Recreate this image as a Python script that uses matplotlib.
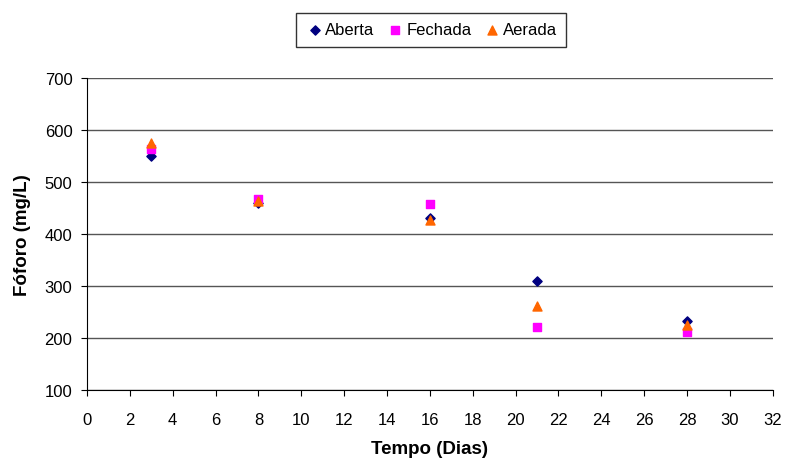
import matplotlib
matplotlib.use("Agg")
import matplotlib.pyplot as plt

plt.rcParams['font.family'] = ['Liberation Sans', 'DejaVu Sans']

dias = [3, 8, 16, 21, 28]
aberta = [550, 460, 430, 309, 232]
fechada = [563, 467, 458, 221, 211]
aerada = [575, 464, 428, 262, 226]

fig = plt.figure(figsize=(7.87, 4.6), dpi=100)
ax = fig.add_axes([0.1105, 0.15, 0.8715, 0.678])

ax.scatter(dias, aberta, marker='D', s=22, color='#000080', label='Aberta', zorder=3)
ax.scatter(dias, fechada, marker='s', s=30, color='#FF00FF', label='Fechada', zorder=3)
ax.scatter(dias, aerada, marker='^', s=42, color='#FF6600', label='Aerada', zorder=3)

ax.set_xlim(0, 32)
ax.set_ylim(100, 700)
ax.set_xticks(range(0, 33, 2))
ax.set_yticks(range(100, 701, 100))
ax.grid(axis='y', color='#555555', linewidth=1)
ax.set_axisbelow(True)
for s in ['top', 'right']:
    ax.spines[s].set_visible(False)
for s in ['left', 'bottom']:
    ax.spines[s].set_color('black')
ax.tick_params(labelsize=12, direction='out', length=4.5)
ax.tick_params(axis='y', pad=6)
ax.tick_params(axis='x', pad=11)
ax.set_xlabel('Tempo (Dias)', fontsize=13.5, fontweight='bold', labelpad=10)
ax.set_ylabel('Fóforo (mg/L)', fontsize=13.5, fontweight='bold', labelpad=10)

leg = fig.legend(loc='upper center', bbox_to_anchor=(0.548, 0.987), ncol=3, fontsize=12,
                 frameon=True, fancybox=False, edgecolor='black', handletextpad=0.1,
                 columnspacing=0.7, borderpad=0.55, handlelength=1.1, scatterpoints=1)
leg.get_frame().set_linewidth(1)

fig.savefig('out.png', dpi=100)
